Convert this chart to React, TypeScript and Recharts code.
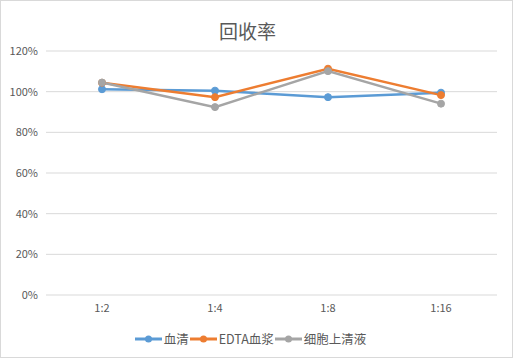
import React from "react";
import { LineChart, Line, XAxis, YAxis, CartesianGrid, Legend } from "recharts";

const categories = ["1:2", "1:4", "1:8", "1:16"];
const serum = [101.2, 100.5, 97.3, 99.5];
const edtaPlasma = [104.4, 97.3, 111.3, 98.3];
const supernatant = [104.5, 92.4, 110.1, 94.1];
const yTicks = [0, 20, 40, 60, 80, 100, 120];

const seriesList = [
  { key: "serum", name: "血清", color: "#5B9BD5" },
  { key: "edta", name: "EDTA血浆", color: "#ED7D31" },
  { key: "super", name: "细胞上清液", color: "#A5A5A5" },
];

const data = categories.map((c, i) => ({
  name: c,
  serum: serum[i],
  edta: edtaPlasma[i],
  super: supernatant[i],
}));

const font = "'Noto Sans CJK SC', sans-serif";

const LegendContent = () => (
  <div style={{ display: "flex", justifyContent: "center", fontFamily: font, fontSize: 12.5, color: "#595959", paddingTop: 10, paddingLeft: 4 }}>
    {seriesList.map((s) => (
      <div key={s.key} style={{ display: "flex", alignItems: "center", marginRight: 1 }}>
        <svg width={27} height={10} style={{ marginRight: 2 }}>
          <line x1={0} y1={5} x2={27} y2={5} stroke={s.color} strokeWidth={3} />
          <circle cx={13.5} cy={5} r={3.5} fill={s.color} />
        </svg>
        <span>{s.name}</span>
      </div>
    ))}
  </div>
);

const App = () => {
  return (
    <div style={{ position: "absolute", left: 0, top: 0, width: 511, height: 356, border: "1px solid #D9D9D9", background: "#fff" }}>
      <div style={{ position: "absolute", top: 16, width: "100%", textAlign: "center", fontFamily: font, fontSize: 19, color: "#595959", paddingRight: 18, boxSizing: "border-box" }}>
        回收率
      </div>
      <LineChart width={511} height={356} data={data} margin={{ top: 50, right: 15, bottom: 0, left: 0 }}>
        <CartesianGrid stroke="#D9D9D9" vertical={false} />
        <XAxis
          dataKey="name"
          axisLine={false}
          tickLine={false}
          tick={{ fill: "#595959", fontSize: 11, fontFamily: font }}
          tickMargin={3}
          height={24}
          padding={{ left: 56, right: 56 }}
        />
        <YAxis
          domain={[0, 120]}
          ticks={yTicks}
          tickFormatter={(v: number) => `${v}%`}
          axisLine={false}
          tickLine={false}
          tick={{ fill: "#595959", fontSize: 11, fontFamily: font }}
          width={45}
          tickMargin={2}
        />
        <Legend verticalAlign="bottom" height={38} content={<LegendContent />} />
        {seriesList.map((s) => (
          <Line
            key={s.key}
            type="linear"
            dataKey={s.key}
            name={s.name}
            stroke={s.color}
            strokeWidth={2.5}
            dot={{ r: 3.5, fill: s.color, stroke: s.color, strokeWidth: 1 }}
            isAnimationActive={false}
          />
        ))}
      </LineChart>
    </div>
  );
};

export default App;
